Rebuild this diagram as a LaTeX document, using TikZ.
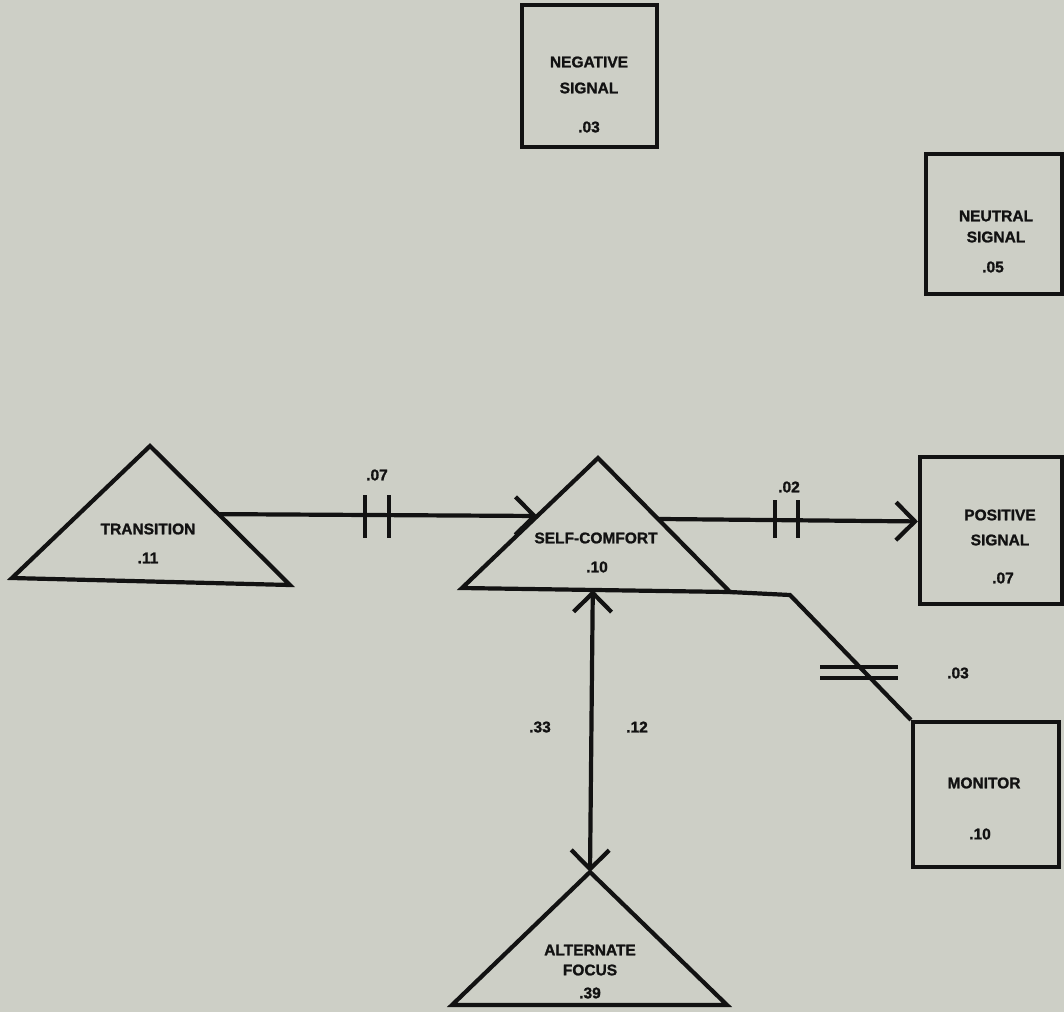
\documentclass[tikz,border=0pt]{standalone}
\usepackage{fontspec}
\setmainfont{Liberation Sans}
\newfontfamily\plotfont{Liberation Sans Bold}[FakeBold=1.3]
\usetikzlibrary{arrows.meta,calc}
\definecolor{paper}{RGB}{205,207,198}
\definecolor{ink}{RGB}{18,18,18}
\tikzset{
  inkline/.style={draw=ink, line width=4.2pt, line join=miter},
  sigbox/.style={inkline, rectangle, inner sep=0pt},
  lbl/.style={text=ink, font=\plotfont\fontsize{15.5}{18}\selectfont, inner sep=0pt},
  barb/.tip={Straight Barb[length=19pt,width=38pt]},
  conn/.style={inkline, -barb},
  tickmark/.style={inkline},
}
\begin{document}
\begin{tikzpicture}[x=1pt,y=-1pt]
\fill[paper] (0,0) rectangle (1064,1012);
\useasboundingbox (0,0) rectangle (1064,1012);

% triangles
\coordinate (tr-a) at (150,446); \coordinate (tr-l) at (12,578); \coordinate (tr-r) at (290,585);
\draw[inkline] (tr-a) -- (tr-l) -- (tr-r) -- cycle;
\node[lbl] (tr-name) at (148,529) {TRANSITION};
\node[lbl] (tr-val) at (148,558) {.11};

\coordinate (sc-a) at (598,458); \coordinate (sc-l) at (462,588); \coordinate (sc-r) at (730,592);
\draw[inkline] (sc-a) -- (sc-l) -- (sc-r) -- cycle;
\node[lbl] (sc-name) at (596,538) {SELF-COMFORT};
\node[lbl] (sc-val) at (597,567) {.10};

\coordinate (af-a) at (590,872); \coordinate (af-l) at (452,1005); \coordinate (af-r) at (727,1005);
\draw[inkline] (af-a) -- (af-l) -- (af-r) -- cycle;
\node[lbl] (af-name1) at (590,950) {ALTERNATE};
\node[lbl] (af-name2) at (590,970) {FOCUS};
\node[lbl] (af-val) at (590,993) {.39};

% boxes
\node[sigbox, minimum width=135pt, minimum height=142pt] (neg) at (589.5,76) {};
\node[lbl] (neg-1) at (589,62) {NEGATIVE};
\node[lbl] (neg-2) at (589,88) {SIGNAL};
\node[lbl] (neg-v) at (589,127) {.03};

\node[sigbox, minimum width=136pt, minimum height=140pt] (neu) at (994,224) {};
\node[lbl] (neu-1) at (996,216) {NEUTRAL};
\node[lbl] (neu-2) at (996,237) {SIGNAL};
\node[lbl] (neu-v) at (993,267) {.05};

\node[sigbox, minimum width=142pt, minimum height=147pt] (pos) at (991,530.5) {};
\node[lbl] (pos-1) at (1000,515) {POSITIVE};
\node[lbl] (pos-2) at (1000,540) {SIGNAL};
\node[lbl] (pos-v) at (1003,578) {.07};

\node[sigbox, minimum width=146pt, minimum height=145pt] (mon) at (986,794.5) {};
\node[lbl] (mon-1) at (984,783) {MONITOR};
\node[lbl] (mon-v) at (980,834) {.10};

% connector transition -> self-comfort
\coordinate (tr-out) at ($(tr-a)!0.49!(tr-r)$);
\coordinate (sc-in) at ($(sc-a)!0.446!(sc-l)$);
\draw[conn] (tr-out) -- (sc-in);
\draw[tickmark] (365,495) -- (365,538);
\draw[tickmark] (389,495) -- (389,538);
\node[lbl] (l07) at (377,475) {.07};

% connector self-comfort -> positive signal
\coordinate (sc-out) at ($(sc-a)!0.455!(sc-r)$);
\coordinate (pos-in) at ($(pos.north west)!0.44!(pos.south west)$);
\draw[conn] (sc-out) -- (pos-in);
\draw[tickmark] (775,500) -- (775,538);
\draw[tickmark] (798,500) -- (798,538);
\node[lbl] (l02) at (789,487) {.02};

% connector self-comfort -> monitor
\coordinate (bend) at (790,595);
\draw[inkline] (sc-r) -- (bend) -- (mon.north west);
\draw[tickmark] (820,667) -- (898,667);
\draw[tickmark] (820,678) -- (898,678);
\node[lbl] (l03) at (958,673) {.03};

% connector alternate focus <-> self-comfort
\coordinate (sc-b) at ($(sc-l)!0.488!(sc-r)$);
\draw[inkline, barb-barb] (af-a) -- (sc-b);
\node[lbl] (l33) at (540,727) {.33};
\node[lbl] (l12) at (637,727) {.12};
\end{tikzpicture}
\end{document}
